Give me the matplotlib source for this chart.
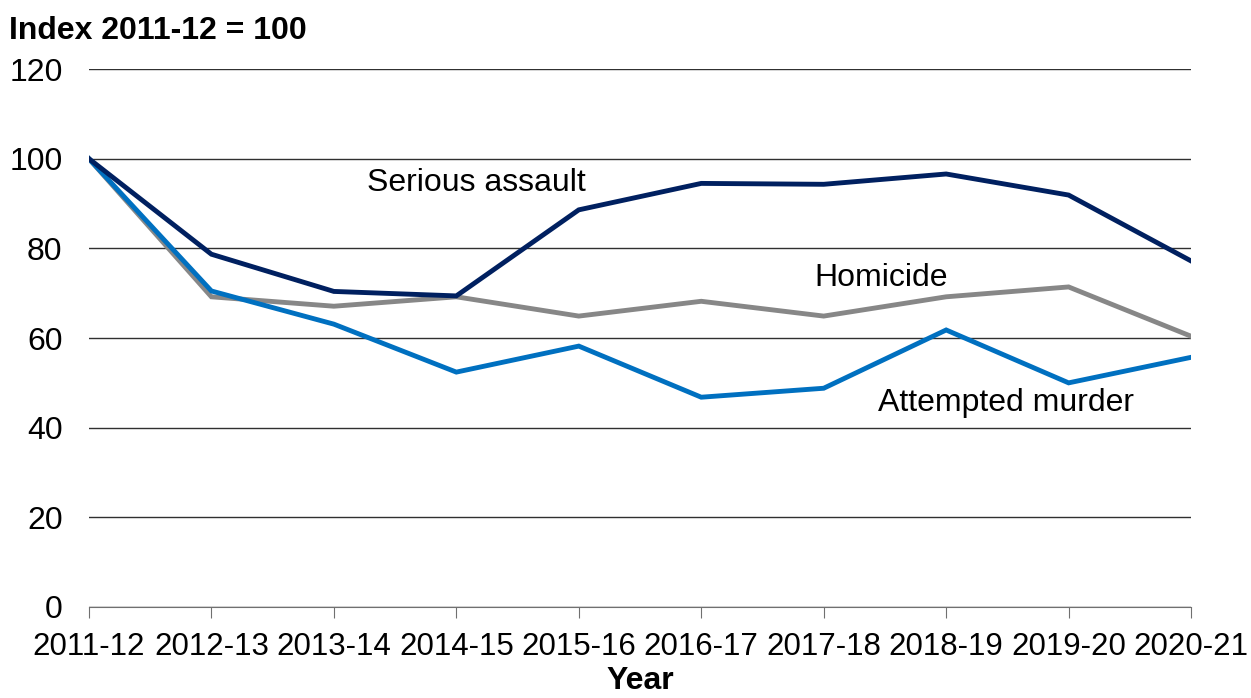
import matplotlib
matplotlib.use('Agg')
import matplotlib.pyplot as plt

plt.rcParams['font.family'] = ['Liberation Sans', 'DejaVu Sans']

years = ['2011-12', '2012-13', '2013-14', '2014-15', '2015-16',
         '2016-17', '2017-18', '2018-19', '2019-20', '2020-21']
serious_assault = [100, 78.7, 70.4, 69.4, 88.6, 94.5, 94.3, 96.6, 91.9, 77.2]
homicide = [100, 69.2, 67.1, 69.2, 64.9, 68.2, 64.9, 69.2, 71.4, 60.4]
attempted_murder = [100, 70.5, 63.1, 52.4, 58.2, 46.8, 48.8, 61.8, 50.0, 55.7]

fig = plt.figure(figsize=(12.51, 6.98), dpi=100)
ax = fig.add_axes([0.0711, 0.1304, 0.881, 0.7706])

x = range(len(years))
ax.plot(x, homicide, color='#878787', lw=3.5, solid_joinstyle='miter')
ax.plot(x, attempted_murder, color='#0070C0', lw=3.5, solid_joinstyle='miter')
ax.plot(x, serious_assault, color='#002060', lw=3.5, solid_joinstyle='miter')

ax.set_xlim(0, len(years) - 1)
ax.set_ylim(0, 120)
ax.set_yticks(range(0, 121, 20))
ax.set_xticks(list(x))
ax.set_xticklabels(years)
ax.yaxis.grid(True, color='#303030', lw=1)
ax.set_axisbelow(True)
for s in ['top', 'right', 'left']:
    ax.spines[s].set_visible(False)
ax.spines['bottom'].set_color('#707070')
ax.tick_params(axis='y', length=0, pad=19, labelsize=23)
ax.tick_params(axis='x', length=8, color='#707070', pad=10, labelsize=22.5)
ax.set_xlabel('Year', fontsize=23, fontweight='bold', labelpad=3)

fig.text(0.007, 0.955, 'Index 2011-12 = 100', fontsize=23, fontweight='bold', va='center')

ax.text(2.27, 94.6, 'Serious assault', fontsize=23, va='center')
ax.text(5.92, 73.4, 'Homicide', fontsize=23, va='center')
ax.text(6.44, 45.5, 'Attempted murder', fontsize=23, va='center')

fig.savefig('out.png', dpi=100)
